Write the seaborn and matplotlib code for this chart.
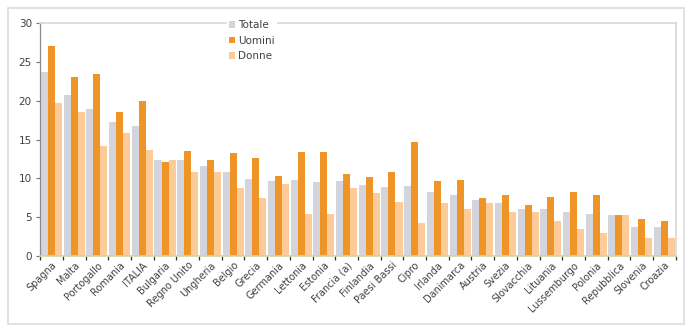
import matplotlib
matplotlib.use("Agg")
import matplotlib.pyplot as plt
import seaborn as sns
import pandas as pd
import numpy as np
from matplotlib.patches import Rectangle

paesi = ["Spagna", "Malta", "Portogallo", "Romania", "ITALIA", "Bulgaria", "Regno Unito",
         "Ungheria", "Belgio", "Grecia", "Germania", "Lettonia", "Estonia", "Francia (a)",
         "Finlandia", "Paesi Bassi", "Cipro", "Irlanda", "Danimarca", "Austria", "Svezia",
         "Slovacchia", "Lituania", "Lussemburgo", "Polonia", "Repubblica", "Slovenia", "Croazia"]
totale = [23.7, 20.7, 18.9, 17.2, 16.7, 12.4, 12.3, 11.6, 10.8, 9.9, 9.6, 9.8, 9.5, 9.6,
          9.1, 8.9, 9.0, 8.2, 7.8, 7.2, 6.8, 6.1, 6.1, 5.7, 5.4, 5.3, 3.7, 3.7]
uomini = [27.1, 23.1, 23.4, 18.5, 20.0, 12.1, 13.5, 12.4, 13.2, 12.6, 10.3, 13.4, 13.4, 10.6,
          10.2, 10.8, 14.7, 9.6, 9.8, 7.5, 7.8, 6.5, 7.6, 8.2, 7.8, 5.3, 4.8, 4.5]
donne = [19.7, 18.5, 14.2, 15.9, 13.6, 12.4, 10.8, 10.8, 8.7, 7.5, 9.3, 5.4, 5.4, 8.7,
         8.1, 6.9, 4.2, 6.8, 6.1, 6.8, 5.7, 5.7, 4.5, 3.5, 3.0, 5.3, 2.3, 2.3]
serie = ["Totale", "Uomini", "Donne"]

df = pd.DataFrame({
    "Paese": paesi * 3,
    "Serie": [serie[0]] * len(paesi) + [serie[1]] * len(paesi) + [serie[2]] * len(paesi),
    "Valore": totale + uomini + donne,
})

sns.set_theme(style="white")
plt.rcParams['font.family'] = ['DejaVu Sans']

fig = plt.figure(figsize=(6.93, 3.31), dpi=100)
ax = fig.add_axes([0.058, 0.227, 0.917, 0.703])

colors = {"Totale": "#d4d4dc", "Uomini": "#ef9426", "Donne": "#fccb98"}
sns.barplot(data=df, x="Paese", y="Valore", hue="Serie", palette=colors,
            width=0.93, ax=ax, saturation=1, linewidth=0, legend=True)

ax.set_ylim(0, 30)
ax.set_xlim(-0.5, len(paesi) - 0.5)
ax.set_yticks([0, 5, 10, 15, 20, 25, 30])
ax.set_xlabel("")
ax.set_ylabel("")
ax.tick_params(axis="y", length=3, width=0.8, color="#707070", labelsize=7.5,
               labelcolor="#404040", left=True, pad=3)
ax.tick_params(axis="x", length=0, labelsize=7, labelcolor="#404040", pad=3)
for lbl in ax.get_xticklabels():
    lbl.set_rotation(45)
    lbl.set_ha("right")
    lbl.set_rotation_mode("anchor")

ax.set_xticks(np.arange(-0.5, len(paesi), 1.0), minor=True)
ax.tick_params(axis="x", which="minor", length=3, width=0.9, color="#303030", bottom=True)

for s in ["top", "right"]:
    ax.spines[s].set_color("#d8d8d8")
    ax.spines[s].set_linewidth(1.2)
ax.spines["left"].set_color("#8a8a8a")
ax.spines["left"].set_linewidth(0.9)
ax.spines["bottom"].set_color("#c8d8a8")
ax.spines["bottom"].set_linewidth(1.2)

leg = ax.legend(loc="upper left", bbox_to_anchor=(0.285, 1.045), frameon=True,
                fontsize=7.5, handlelength=0.6, handleheight=0.6, handletextpad=0.3,
                labelspacing=0.55, borderpad=0.2)
leg.get_frame().set_facecolor("white")
leg.get_frame().set_edgecolor("none")
leg.get_frame().set_alpha(1)
for t in leg.get_texts():
    t.set_color("#404040")

fig.patches.append(Rectangle((0.012, 0.02), 0.975, 0.955, transform=fig.transFigure,
                             fill=False, edgecolor="#dcdcdc", linewidth=1.2))

fig.savefig("out.png", dpi=100)
